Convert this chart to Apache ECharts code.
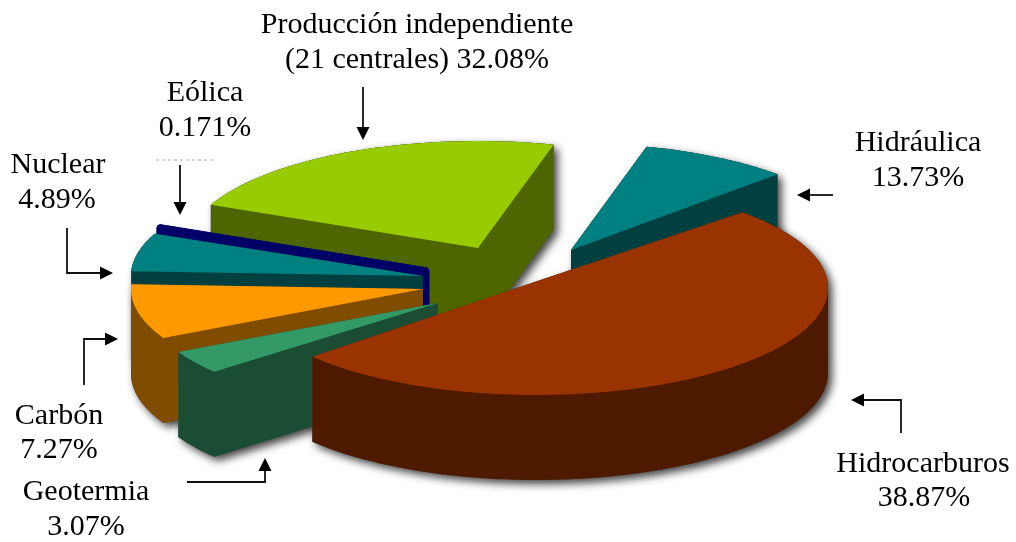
<!DOCTYPE html>
<html>
<head>
<meta charset="utf-8">
<style>html,body{margin:0;padding:0;background:#fff}#c{width:1016px;height:542px}</style>
<script src="https://cdn.jsdelivr.net/npm/echarts@6/dist/echarts.min.js"></script>
</head>
<body>
<div id="c"></div>
<script>
const categories = ['Hidráulica', 'Producción independiente', 'Eólica', 'Nuclear', 'Carbón', 'Geotermia', 'Hidrocarburos'];
const shares = [13.73, 32.08, 0.171, 4.89, 7.27, 3.07, 38.87];
const shareLabels = ['13.73%', '(21 centrales) 32.08%', '0.171%', '4.89%', '7.27%', '3.07%', '38.87%'];

// ---- styling ----
const topColors = ['#008080', '#99CC00', '#000066', '#008080', '#FF9900', '#339966', '#993300'];
const wallColors = ['#004040', '#4D6600', '#000066', '#004040', '#804D00', '#1A4D33', '#4D1A00'];
const strokeWidths = [0, 0, 5, 0, 0, 0, 0];

// ---- view of the pseudo-3D pie ----
// The source drawing is a distorted perspective view, so the on-screen sweep is not
// proportional to the share: this maps each cumulative-share boundary to a view angle.
const viewAngles = [45, 75, 156.2, 156.7, 177.5, 207.2, 220, 405];
const explodeX = [571, 478, 427, 423, 423, 438, 536];
const explodeY = [250, 248, 270, 276, 289, 303, 288];
const RX = 292, RY = 107, DEPTH = 85;

const cumulative = shares.reduce((acc, v) => (acc.push(acc[acc.length - 1] + v), acc), [0]);

function viewAngle(cum) {
  for (let i = 0; i < cumulative.length - 1; i++) {
    if (cum <= cumulative[i + 1] + 1e-9) {
      const f = (cum - cumulative[i]) / (cumulative[i + 1] - cumulative[i]);
      return viewAngles[i] + f * (viewAngles[i + 1] - viewAngles[i]);
    }
  }
  return viewAngles[viewAngles.length - 1];
}

function topFace(i, value) {
  const a0 = viewAngle(cumulative[i]);
  const a1 = viewAngle(cumulative[i] + value);
  const cx = explodeX[i], cy = explodeY[i];
  const pts = [[cx, cy]];
  const n = Math.max(2, Math.ceil((a1 - a0) / 2));
  for (let k = 0; k <= n; k++) {
    const t = (a0 + (a1 - a0) * k / n) * Math.PI / 180;
    pts.push([cx + RX * Math.cos(t), cy - RY * Math.sin(t)]);
  }
  return pts;
}

function hull(points) {
  const p = points.slice().sort((a, b) => a[0] - b[0] || a[1] - b[1]);
  const cross = (o, a, b) => (a[0] - o[0]) * (b[1] - o[1]) - (a[1] - o[1]) * (b[0] - o[0]);
  const lo = [], up = [];
  for (const q of p) {
    while (lo.length >= 2 && cross(lo[lo.length - 2], lo[lo.length - 1], q) <= 0) lo.pop();
    lo.push(q);
  }
  for (const q of p.slice().reverse()) {
    while (up.length >= 2 && cross(up[up.length - 2], up[up.length - 1], q) <= 0) up.pop();
    up.push(q);
  }
  return lo.slice(0, -1).concat(up.slice(0, -1));
}

function solid(i, value) {
  const t = topFace(i, value);
  return { top: hull(t), wall: hull(t.concat(t.map(p => [p[0], p[1] + DEPTH]))) };
}

const chart = echarts.init(document.getElementById('c'), null, { renderer: 'canvas' });

// ---- annotation layer: labels and arrows ----
const labelX = [[918, 918], [417, 417], [205, 205], [58, 57], [59, 59], [86, 86], [923, 924]];
const labelY = [[143, 178], [25, 60], [93, 128], [165, 200], [416, 450], [492, 527], [464, 498]];
const arrows = [
  [[833, 195], [797, 195]],
  [[363, 87], [363, 140]],
  [[180, 165], [180, 215]],
  [[67, 228], [67, 273], [113, 273]],
  [[84, 385], [84, 339], [118, 339]],
  [[187, 482], [265, 482], [265, 458]],
  [[901, 433], [901, 400], [851, 400]]
];

const graphics = [];
categories.forEach((name, i) => {
  const lines = [name, shareLabels[i]];
  lines.forEach((txt, j) => {
    graphics.push({
      type: 'text', x: labelX[i][j], y: labelY[i][j], silent: true,
      style: { text: txt, fill: '#000', font: '30px "Liberation Serif", serif', textAlign: 'center', textVerticalAlign: 'middle' }
    });
  });
});
arrows.forEach(a => {
  const e = a[a.length - 1], s = a[a.length - 2];
  const len = Math.hypot(e[0] - s[0], e[1] - s[1]);
  const ux = (e[0] - s[0]) / len, uy = (e[1] - s[1]) / len;
  const hl = 13, hw = 6.5;
  const base = [e[0] - ux * hl, e[1] - uy * hl];
  const pts = a.slice(0, -1).concat([base]);
  graphics.push({ type: 'polyline', silent: true, shape: { points: pts }, style: { stroke: '#111', lineWidth: 1.8, fill: null } });
  graphics.push({
    type: 'polygon', silent: true,
    shape: { points: [e, [base[0] - uy * hw, base[1] + ux * hw], [base[0] + uy * hw, base[1] - ux * hw]] },
    style: { fill: '#000' }
  });
});
graphics.push({
  type: 'line', silent: true, shape: { x1: 156, y1: 160, x2: 215, y2: 160 },
  style: { stroke: '#aaa', lineWidth: 1, lineDash: [3, 3] }
});

const seriesData = shares.map((v, i) => ({ name: categories[i], value: [v, i] }));

chart.setOption({
  animation: false,
  backgroundColor: '#fff',
  graphic: graphics,
  series: [
    {
      type: 'custom', coordinateSystem: 'none', silent: true, z: 1, data: seriesData,
      renderItem(params, api) {
        const i = api.value(1);
        const s = solid(i, api.value(0));
        return {
          type: 'polygon', shape: { points: s.wall },
          style: { fill: '#555', shadowBlur: 9, shadowColor: 'rgba(0,0,0,0.75)', shadowOffsetX: 4, shadowOffsetY: 4 }
        };
      }
    },
    {
      type: 'custom', coordinateSystem: 'none', silent: true, z: 2, data: seriesData,
      renderItem(params, api) {
        const i = api.value(1);
        const s = solid(i, api.value(0));
        const sw = strokeWidths[i];
        return {
          type: 'group',
          children: [
            { type: 'polygon', shape: { points: s.wall }, style: { fill: wallColors[i], stroke: sw ? wallColors[i] : null, lineWidth: sw, lineJoin: 'bevel' } },
            { type: 'polygon', shape: { points: s.top }, style: { fill: topColors[i], stroke: sw ? topColors[i] : null, lineWidth: sw, lineJoin: 'bevel' } }
          ]
        };
      }
    }
  ]
});
</script>
</body>
</html>
